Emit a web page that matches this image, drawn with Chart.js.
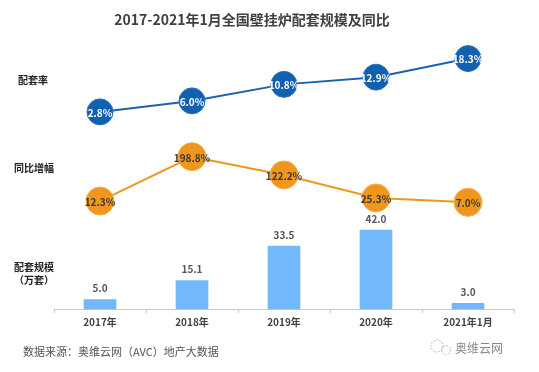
<!DOCTYPE html>
<html>
<head>
<meta charset="utf-8">
<script src="https://cdn.jsdelivr.net/npm/chart.js@4/dist/chart.umd.min.js"></script>
<style>
  html, body { margin: 0; padding: 0; background: #fff; }
  #wrap { position: relative; width: 539px; height: 372px; }
</style>
</head>
<body>
<div id="wrap"><canvas id="myChart" width="539" height="372"></canvas></div>
<script>
// data
const categories = ['2017年', '2018年', '2019年', '2020年', '2021年1月'];
const scaleValues = [5.0, 15.1, 33.5, 42.0, 3.0];      // 配套规模（万套）
const matchRate = [2.8, 6.0, 10.8, 12.9, 18.3];        // 配套率 %
const yoyGrowth = [12.3, 198.8, 122.2, 25.3, 7.0];     // 同比增幅 %

const FONT = "'Noto Sans CJK SC', 'Noto Sans', sans-serif";

// draws value labels, side captions, title and source line
const textPlugin = {
  id: 'texts',
  afterDatasetsDraw(chart) {
    const ctx = chart.ctx;
    ctx.save();
    ctx.textAlign = 'center';
    ctx.textBaseline = 'middle';

    chart.data.datasets.forEach((ds, i) => {
      const meta = chart.getDatasetMeta(i);
      meta.data.forEach((el, j) => {
        const v = ds.data[j];
        if (ds.type === 'bar') {
          ctx.font = 'bold 10px ' + FONT;
          ctx.fillStyle = '#555';
          ctx.fillText(v.toFixed(1), el.x, el.y - 11);
        } else {
          ctx.font = 'bold 10px ' + FONT;
          ctx.fillStyle = ds.labelColor;
          ctx.fillText(v.toFixed(1) + '%', el.x, el.y + 1);
        }
      });
    });

    // title
    ctx.font = 'bold 14px ' + FONT;
    ctx.fillStyle = '#404040';
    ctx.fillText('2017-2021年1月全国壁挂炉配套规模及同比', 252, 20);

    // side captions
    ctx.font = 'bold 10px ' + FONT;
    ctx.fillStyle = '#222';
    ctx.fillText('配套率', 33, 80);
    ctx.fillText('同比增幅', 34, 168);
    ctx.fillText('配套规模', 34, 267);
    ctx.fillText('（万套）', 34, 280);

    // source
    ctx.textAlign = 'left';
    ctx.font = '11px ' + FONT;
    ctx.fillStyle = '#555';
    ctx.fillText('数据来源：奥维云网（AVC）地产大数据', 23, 352);

    ctx.font = '12px ' + FONT;
    ctx.fillStyle = '#888';
    ctx.fillText('奥维云网', 455, 348);

    // small wechat-like bubble
    ctx.strokeStyle = '#aaa';
    ctx.lineWidth = 1;
    ctx.setLineDash([1.5, 1.5]);
    ctx.beginPath();
    ctx.arc(437, 346, 6, 0, Math.PI * 2);
    ctx.stroke();
    ctx.beginPath();
    ctx.arc(446, 350, 4.5, 0, Math.PI * 2);
    ctx.stroke();
    ctx.restore();
  }
};

new Chart(document.getElementById('myChart').getContext('2d'), {
  data: {
    labels: categories,
    datasets: [
      {
        type: 'line',
        label: '配套率',
        data: matchRate,
        yAxisID: 'yRate',
        borderColor: '#1a62b0',
        borderWidth: 2,
        pointRadius: 13,
        pointHoverRadius: 13,
        pointBackgroundColor: '#1260b0',
        pointBorderColor: '#2c72bd',
        pointBorderWidth: 1,
        labelColor: '#fff',
        order: 1
      },
      {
        type: 'line',
        label: '同比增幅',
        data: yoyGrowth,
        yAxisID: 'yGrowth',
        borderColor: '#f0961e',
        borderWidth: 2,
        pointRadius: 14,
        pointHoverRadius: 14,
        pointBackgroundColor: '#f0961c',
        pointBorderColor: '#f5ad4e',
        pointBorderWidth: 1,
        labelColor: '#3a3a3a',
        order: 2
      },
      {
        type: 'bar',
        label: '配套规模',
        data: scaleValues,
        yAxisID: 'yScale',
        backgroundColor: '#72b8fb',
        barThickness: 32,
        order: 3
      }
    ]
  },
  options: {
    responsive: false,
    animation: false,
    events: [],
    layout: { padding: { top: 40, left: 54, right: 25, bottom: 33 } },
    plugins: {
      legend: { display: false },
      tooltip: { enabled: false }
    },
    scales: {
      x: {
        offset: true,
        afterFit: (s) => { s.height = 30; },
        grid: {
          display: true,
          drawOnChartArea: false,
          offset: true,
          tickLength: 4,
          color: '#c8c8c8'
        },
        border: { color: '#c8c8c8' },
        ticks: {
          padding: 3,
          color: '#444',
          font: { family: FONT, size: 10, weight: 'bold' }
        }
      },
      yScale: { display: false, min: 0, max: 143 },
      yRate: { display: false, min: -54.5, max: 23.7 },
      yGrowth: { display: false, min: -442, max: 690 }
    }
  },
  plugins: [textPlugin]
});
</script>
</body>
</html>
